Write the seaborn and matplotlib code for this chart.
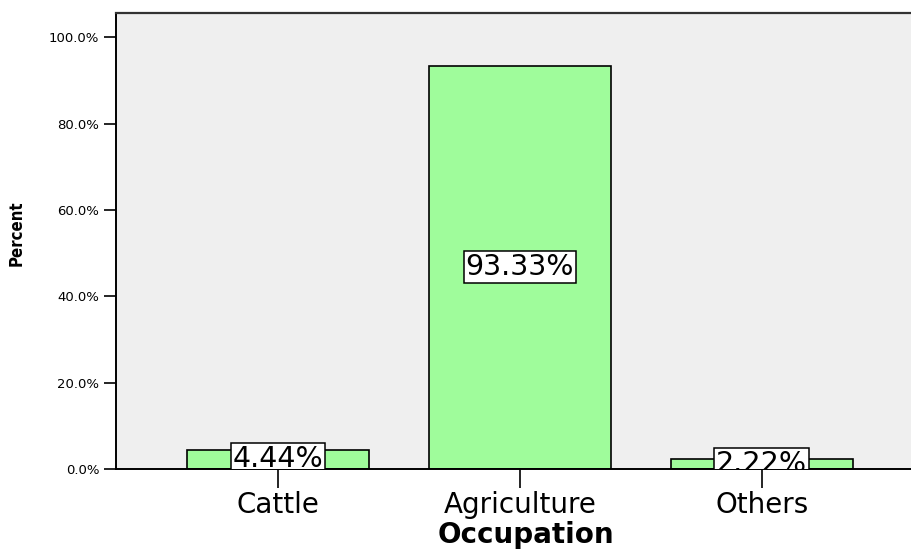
import matplotlib
matplotlib.use("Agg")
import matplotlib.pyplot as plt
import seaborn as sns
import pandas as pd
from matplotlib.ticker import FuncFormatter

# Occupation distribution (percent of respondents)
categories = ["Cattle", "Agriculture", "Others"]
percents = [4.44, 93.33, 2.22]
value_labels = ["4.44%", "93.33%", "2.22%"]
y_ticks = [0, 20, 40, 60, 80, 100]

df = pd.DataFrame({"Occupation": categories, "Percent": percents})

sns.set_theme(style="white")
plt.rcParams["font.family"] = ["DejaVu Sans"]
plt.rcParams["text.color"] = "black"
plt.rcParams["xtick.color"] = "black"
plt.rcParams["ytick.color"] = "black"
plt.rcParams["axes.labelcolor"] = "black"

fig = plt.figure(figsize=(9.11, 5.54), dpi=100)
ax = fig.add_axes([116 / 911, 85 / 554, 795 / 911, 456 / 554])
ax.set_facecolor("#efefef")

sns.barplot(data=df, x="Occupation", y="Percent", order=categories,
            color="#9ffc9b", saturation=1, width=0.752,
            edgecolor="black", linewidth=1.2, ax=ax)

ax.set_xlim(-0.669, 2.616)
ax.set_ylim(0, 105.6)

# boxed value labels centred on each bar, clipped by the plot frame
for patch, text in zip(ax.patches, value_labels):
    cx = patch.get_x() + patch.get_width() / 2
    cy = patch.get_height() / 2
    t = ax.text(cx, cy, text, ha="center", va="center", fontsize=20.5,
                color="black", clip_on=True, zorder=5,
                bbox=dict(boxstyle="square,pad=0.07", facecolor="white",
                          edgecolor="black", linewidth=1.1))
    t.set_clip_box(ax.bbox)

ax.set_yticks(y_ticks)
ax.yaxis.set_major_formatter(FuncFormatter(lambda v, _: f"{v:.1f}%"))
ax.tick_params(axis="y", direction="out", length=9, width=1.2,
               labelsize=9.5, pad=3, left=True)
ax.tick_params(axis="x", direction="out", length=13.5, width=1.2,
               labelsize=20, pad=2, bottom=True)

ax.set_xlabel("Occupation", fontsize=20, fontweight="bold")
ax.set_ylabel("Percent", fontsize=12, fontweight="bold",
              fontstretch="condensed")
ax.xaxis.set_label_coords(0.516, -0.114)
ax.yaxis.set_label_coords(-0.114, 0.5175)

for side in ["left", "bottom"]:
    ax.spines[side].set_color("black")
    ax.spines[side].set_linewidth(1.4)
ax.spines["top"].set_color("#333333")
ax.spines["top"].set_linewidth(1.6)
ax.spines["right"].set_visible(False)
ax.grid(False)

fig.savefig("out.png", dpi=100, facecolor="white")
